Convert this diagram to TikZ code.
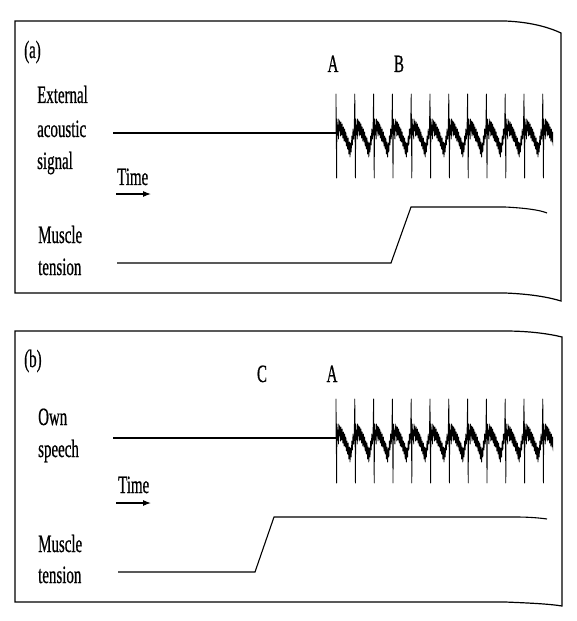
\documentclass[tikz,border=0pt]{standalone}
\usepackage{fontspec}
\newfontfamily\narrow{Liberation Serif}[FakeStretch=0.6,FakeBold=0.6]
\usetikzlibrary{arrows.meta}

\begin{document}
\begin{tikzpicture}[x=1bp,y=-1bp,
  lbl/.style={font=\narrow\fontsize{25}{30}\selectfont,inner sep=0pt,anchor=base west},
  tag/.style={lbl,anchor=base},
  trace/.style={line width=1.1bp},
  frame/.style={line width=1.2bp},
  wave/.style={line width=0.8bp,line join=round}]
  \useasboundingbox (0,0) rectangle (577,621);
  % panel (a)
  \draw[frame] (505,21) -- (15,21) -- (15,293) -- (505,293) .. controls (530,294) and (548,297) .. (561,301)
    -- (561,33) .. controls (548,27) and (530,22) .. (505,21);
  \node[lbl] (pa) at (24,58) {(a)};
  \node[tag] (aA) at (333,72) {A};
  \node[tag] (aB) at (399,72) {B};
  \node[lbl] (ext1) at (37,103) {External};
  \node[lbl] (ext2) at (37,137) {acoustic};
  \node[lbl] (ext3) at (37,169) {signal};
  \node[lbl] (timea) at (117,185) {Time};
  \draw[trace,-{Latex[length=8bp,width=6bp]}] (116,194) -- (151,194);
  \node[lbl] (musa1) at (38,243) {Muscle};
  \node[lbl] (musa2) at (38,275) {tension};
  \draw[trace] (113,133) -- (336,133);
  \draw[trace] (117,263) -- (391,263) -- (411,207) -- (505,207) .. controls (525,208) and (540,210) .. (547,213);
  % panel (b)
  \draw[frame] (505,331) -- (15,331) -- (15,602) -- (505,602) .. controls (530,603) and (550,604) .. (562,606)
    -- (562,337) .. controls (550,334) and (530,331) .. (505,331);
  \node[lbl] (pb) at (24,367) {(b)};
  \node[tag] (bC) at (262,382) {C};
  \node[tag] (bA) at (332,382) {A};
  \node[lbl] (own1) at (38,425) {Own};
  \node[lbl] (own2) at (38,457) {speech};
  \node[lbl] (timeb) at (118,493) {Time};
  \draw[trace,-{Latex[length=8bp,width=6bp]}] (116,503) -- (151,503);
  \node[lbl] (musb1) at (38,552) {Muscle};
  \node[lbl] (musb2) at (38,583) {tension};
  \draw[trace] (113,438) -- (336,438);
  \draw[trace] (118,572) -- (255,572) -- (274,517) -- (515,517) .. controls (530,517) and (540,518) .. (547,519);
  % acoustic bursts
  \foreach \b in {133,438}{
    \begin{scope}
      \clip (330,\b-50) rectangle (553,\b+50);
      \draw[wave] (336,\b) \foreach \k in {0,...,11}{
        \foreach \dx/\dy in {0/-39,0.6/45,1.0/-14,1.5/2,2.0/-8,2.5/6,2.8/-14,3.3/-2,3.8/-12,4.4/3,5.0/-11,5.6/2,
          6.2/-9,6.8/5,7.4/-6,8.0/8,8.6/-4,9.2/9,9.8/-1,10.4/13,11.0/3,11.6/16,12.2/5,12.8/21,13.4/9,
          14.0/24,14.6/10,15.2/19,15.8/3,16.4/12,17.0/-4,17.6/6,18.2/-2}{
          -- ({336+18.8*\k+\dx},{\b+\dy})}};
    \end{scope}}
\end{tikzpicture}
\end{document}
